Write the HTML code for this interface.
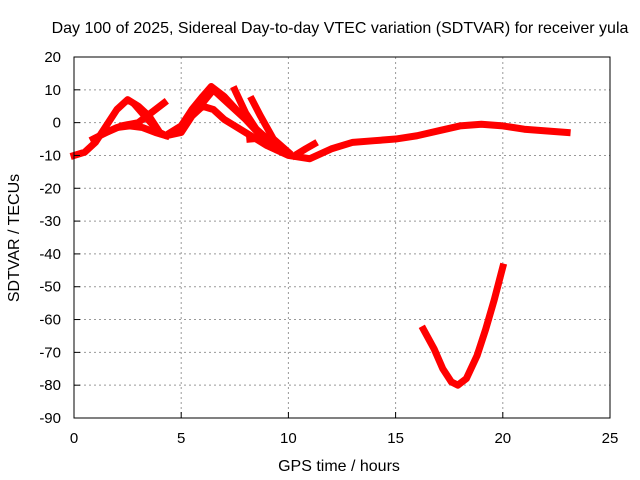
<!DOCTYPE html>
<html><head><meta charset="utf-8"><style>
html,body{margin:0;padding:0;background:#fff}
svg{display:block;font-family:"Liberation Sans",sans-serif}
</style></head><body>
<svg id="c" width="640" height="480">
<text x="340" y="33" font-size="16" text-anchor="middle">Day 100 of 2025, Sidereal Day-to-day VTEC variation (SDTVAR) for receiver yula</text>
<text x="339" y="471" font-size="16" text-anchor="middle">GPS time / hours</text>
<text transform="translate(19,238) rotate(-90)" font-size="16" text-anchor="middle">SDTVAR / TECUs</text>
<g id="grid"></g><g id="series"></g><g id="axes"></g>
</svg>
<script>
const xTicks=[0,5,10,15,20,25];
const yTicks=[20,10,0,-10,-20,-30,-40,-50,-60,-70,-80,-90];
const arcMain=[[0,-10],[0.5,-9],[1,-6],[1.5,-1],[2,4],[2.5,7],[3,5],[3.5,2],[4,-3],[4.3,-4],[5,-3],[5.5,2],[6,5],[6.5,4],[7,1],[8,-3],[9,-7],[10,-10],[11,-11],[12,-8],[13,-6],[14,-5.5],[15,-5],[16,-4],[17,-2.5],[18,-1],[19,-0.5],[20,-1],[21,-2],[22,-2.5],[23,-3]];
const arcB=[[0.9,-5],[1.5,-3],[2,-1.5],[2.6,-1],[3.2,-1.5],[3.8,-3],[4.3,-4]];
const arcC=[[1.5,-3],[2.2,-1],[3,0],[3.6,3],[4.2,6]];
const arcD=[[2.9,5],[3.3,2],[4,-3]];
const arcE=[[4.5,-3],[5,-1],[5.5,4],[6,8],[6.4,11],[7,8],[7.7,3],[8.5,-2],[9.5,-8]];
const arcF=[[5.5,3],[6,6],[6.5,10],[7,7],[8,1],[9,-6]];
const arcG=[[7.5,10],[8,3],[8.5,-2],[9.2,-6]];
const arcH=[[8.3,7],[8.7,2],[9.3,-5],[10,-9]];
const arcI=[[8.2,-5],[9,-4.5]];
const arcJ=[[10.3,-10],[10.8,-8],[11.2,-6.5]];
const arcLow=[[16.3,-63],[16.8,-69],[17.2,-75],[17.6,-79],[17.9,-80],[18.3,-78],[18.8,-71],[19.2,-63],[19.6,-54],[20,-44]];
const allArcs=[arcMain,arcB,arcC,arcD,arcE,arcF,arcG,arcH,arcI,arcJ,arcLow];
const L=74,R=610,T=57,B=418;
const sx=h=>L+(h-0)/(25-0)*(R-L);
const sy=v=>T+(20-v)/(110)*(B-T);
const NS='http://www.w3.org/2000/svg';
function mk(t,p,a){const e=document.createElementNS(NS,t);for(const k in a)e.setAttribute(k,a[k]);p.appendChild(e);return e;}
const grid=document.getElementById('grid'),axes=document.getElementById('axes'),ser=document.getElementById('series');
xTicks.forEach(t=>{
 if(t>0&&t<25){const g=mk('line',grid,{x1:sx(t),x2:sx(t),y1:T,y2:B,stroke:'#999','stroke-dasharray':'2,3'});
 
 }
 const tk=mk('line',axes,{x1:sx(t),x2:sx(t),y1:B,y2:B-6,stroke:'#000'});
 
 
 const tx=mk('text',axes,{x:sx(t),y:B+25,'font-size':15,'text-anchor':'middle'});tx.textContent=t;
 
 
});
yTicks.forEach(t=>{
 if(t<20&&t>-90){const g=mk('line',grid,{x1:L,x2:R,y1:sy(t),y2:sy(t),stroke:'#999','stroke-dasharray':'2,3'});
 
 }
 const tk=mk('line',axes,{x1:L,x2:L+6,y1:sy(t),y2:sy(t),stroke:'#000'});
 
 
 const tx=mk('text',axes,{x:L-13,y:sy(t)+5,'font-size':15,'text-anchor':'end'});tx.textContent=t;
 
 
});
const fr=mk('rect',axes,{x:L,y:T,width:R-L,height:B-T,fill:'none',stroke:'#000'});


allArcs.forEach(a=>{
 const p=mk('polyline',ser,{points:a.map(d=>sx(d[0])+','+sy(d[1])).join(' '),fill:'none',stroke:'#f00','stroke-width':7,'stroke-linejoin':'round','stroke-linecap':'square'});
 
 
});
</script>
</body></html>
